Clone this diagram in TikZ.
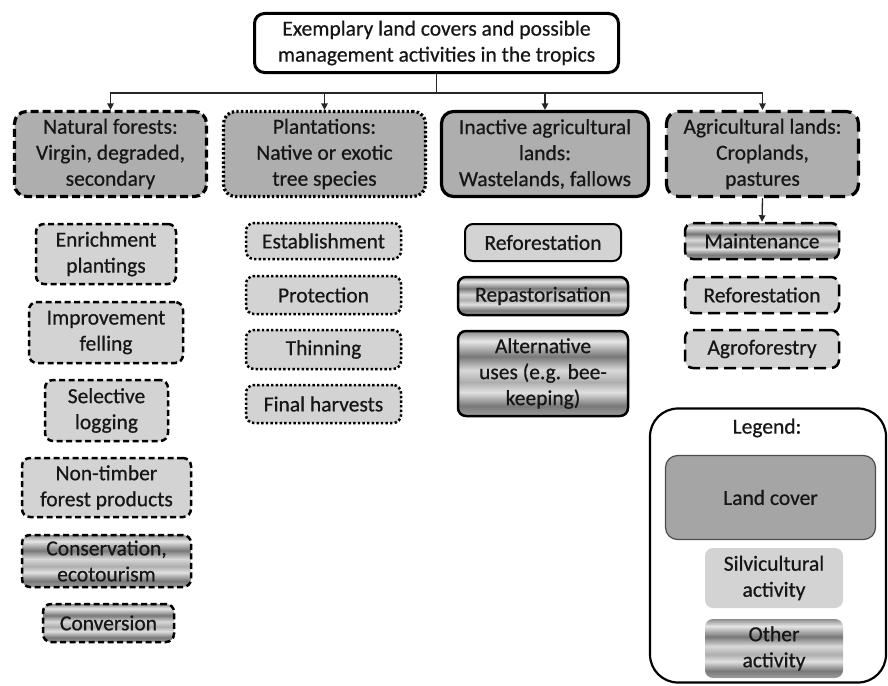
\documentclass[tikz,border=0pt]{standalone}
\usepackage{fontspec}
\setmainfont{Carlito}[FakeBold=0.6]
\usetikzlibrary{arrows.meta}
\definecolor{txt}{HTML}{161616}
\definecolor{lcgray}{HTML}{AEAEAE}
\definecolor{silvgray}{HTML}{D3D3D3}
\definecolor{mtA}{gray}{0.62}
\definecolor{mtB}{gray}{0.47}
\definecolor{mtC}{gray}{0.88}
\definecolor{mtD}{gray}{0.68}
\definecolor{mtE}{gray}{0.85}
\definecolor{mtF}{gray}{0.90}
\definecolor{mtG}{gray}{0.55}
\pgfdeclareverticalshading{metal}{100bp}{color(0bp)=(mtA); color(25bp)=(mtA); color(31bp)=(mtB); color(39bp)=(mtC); color(45bp)=(mtD); color(52bp)=(mtE); color(60bp)=(mtB); color(69bp)=(mtF); color(75bp)=(mtG); color(100bp)=(mtG)}
\tikzset{
  every node/.style={text=txt, align=center, inner sep=0pt, font=\fontsize{21.5}{26}\selectfont},
  sz/.style 2 args={minimum width=#1pt, minimum height=#2pt},
  lc/.style={draw=black, fill=lcgray, line width=3.2pt, rounded corners=12pt},
  act/.style={draw=black, line width=2.5pt, rounded corners=8pt},
  silvact/.style={act, fill=silvgray},
  othact/.style={act, shading=metal},
  bdashA/.style={dash pattern=on 8pt off 4pt},
  bdashB/.style={dash pattern=on 6pt off 3.5pt},
  bdot/.style={dash pattern=on 2.4pt off 2.2pt},
  blongA/.style={dash pattern=on 15pt off 7pt},
  blongB/.style={dash pattern=on 12pt off 6pt},
  conn/.style={draw=black!85, line width=1.3pt, -{Triangle[length=6.5pt,width=6.5pt]}},
}
\begin{document}
\begin{tikzpicture}[x=1pt,y=-1pt]
\useasboundingbox (0,0) rectangle (888,685);
% title
\node[draw=black, line width=3pt, rounded corners=10pt, fill=white, sz={364}{59}] (title) at (436.5,43) {Exemplary land covers and possible\\management activities in the tropics};
% land covers
\node[lc, bdashA, sz={192}{85}] (nf) at (110.5,154) {Natural forests:\\Virgin, degraded,\\secondary};
\node[lc, bdot, sz={202}{85}] (pl) at (324.5,154) {Plantations:\\Native or exotic\\tree species};
\node[lc, sz={207}{85}] (ia) at (545,154) {Inactive agricultural\\lands:\\Wastelands, fallows};
\node[lc, blongA, sz={192}{85}] (ag) at (762.5,154) {Agricultural lands:\\Croplands,\\pastures};
% connectors
\coordinate (bus) at (436.5,93);
\draw[draw=black!85, line width=1.3pt] (title.south) -- (bus);
\draw[conn] (bus) -| (nf.north);
\draw[conn] (bus) -| (pl.north);
\draw[conn] (bus) -| (ia.north);
\draw[conn] (bus) -| (ag.north);
% natural forests activities
\node[silvact, bdashB, sz={140}{60}] (enr) at (106,254) {Enrichment\\plantings};
\node[silvact, bdashB, sz={154}{61}] (imp) at (106,332.5) {Improvement\\felling};
\node[silvact, bdashB, sz={123}{61}] (sel) at (106.5,410.5) {Selective\\logging};
\node[silvact, bdashB, sz={169}{59}] (ntf) at (106.5,487.5) {Non-timber\\forest products};
\node[othact, bdashB, sz={169}{52}] (con) at (106.5,561) {Conservation,\\ecotourism};
\node[othact, bdashB, sz={131}{38}] (cvs) at (108.5,623) {Conversion};
% plantations activities
\node[silvact, bdot, sz={155}{36}] (est) at (323.5,241) {Establishment};
\node[silvact, bdot, sz={155}{38}] (pro) at (323.5,295) {Protection};
\node[silvact, bdot, sz={155}{39}] (thi) at (323.5,349.5) {Thinning};
\node[silvact, bdot, sz={155}{38}] (fin) at (323.5,404) {Final harvests};
% inactive agricultural activities
\node[silvact, line width=2pt, sz={156}{37}] (rf1) at (543,242.5) {Reforestation};
\node[othact, sz={170}{38}] (rep) at (543,296) {Repastorisation};
\node[othact, sz={170}{85}] (alt) at (543,373.5) {Alternative\\uses (e.g. bee-\\keeping)};
% agricultural activities
\node[othact, blongB, sz={154}{36}] (mnt) at (762,241) {Maintenance};
\node[silvact, blongB, sz={154}{36}] (rf2) at (762,295) {Reforestation};
\node[silvact, blongB, sz={154}{38}] (agf) at (762,349) {Agroforestry};
\draw[conn] (ag.south) -- (mnt.north);
% legend
\node[draw=black, line width=2.2pt, rounded corners=28pt, sz={236}{274}] (leg) at (768,545.5) {};
\node (legt) at (767,428) {Legend:};
\node[draw=black!70, line width=1.2pt, fill=lcgray!95!black, rounded corners=12pt, sz={210}{84}] (leglc) at (770.5,497.5) {Land cover};
\node[fill=silvgray, rounded corners=8pt, sz={138}{60}] (legsv) at (774,578) {Silvicultural\\activity};
\node[shading=metal, rounded corners=8pt, sz={138}{59}] (legot) at (774,648.5) {Other\\activity};
\end{tikzpicture}
\end{document}
